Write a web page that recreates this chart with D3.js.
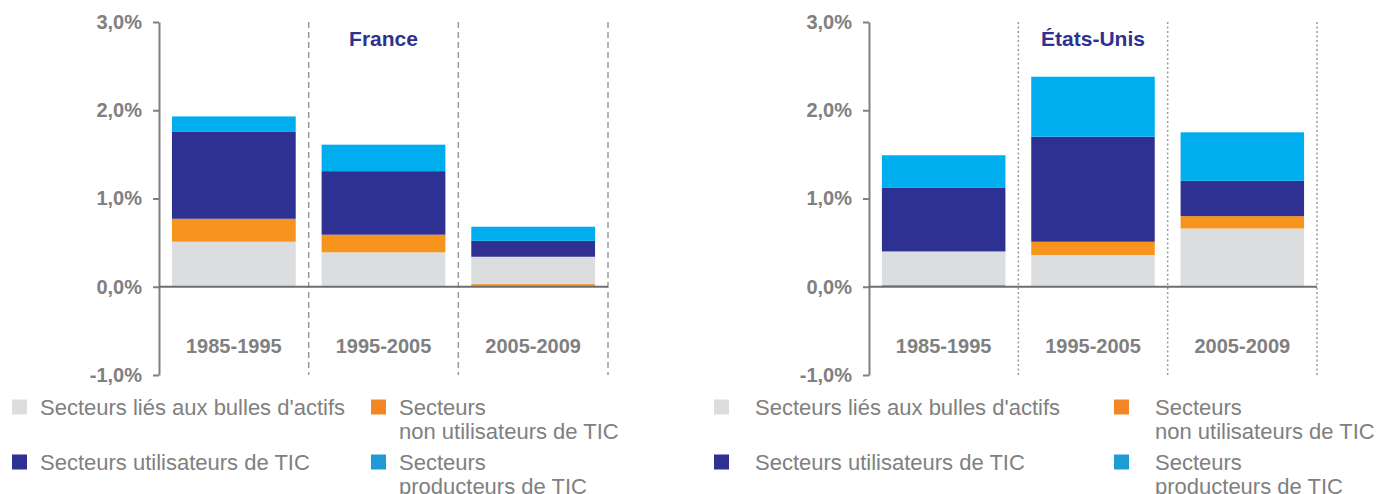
<!DOCTYPE html>
<html>
<head>
<meta charset="utf-8">
<script src="https://cdn.jsdelivr.net/npm/d3@7"></script>
<style>
  body { margin: 0; background: #fff; }
  svg { display: block; font-family: "Liberation Sans", Arial, sans-serif; }
</style>
</head>
<body>
<div id="chart"></div>
<script>
// periods and series
var periods = ["1985-1995", "1995-2005", "2005-2009"];
var seriesNames = ["Secteurs liés aux bulles d'actifs", "Secteurs non utilisateurs de TIC",
                   "Secteurs utilisateurs de TIC", "Secteurs producteurs de TIC"];
var yTicks = [-1, 0, 1, 2, 3];

// France (% per year)
var frBulles   = [0.51, 0.39, 0.31];
var frNonUtil  = [0.26, 0.20, 0.03];
var frUtil     = [0.99, 0.72, 0.18];
var frProd     = [0.17, 0.30, 0.16];
var frOrder    = [[0, 1, 2, 3], [0, 1, 2, 3], [1, 0, 2, 3]];

// Etats-Unis
var usBulles   = [0.38, 0.36, 0.66];
var usNonUtil  = [0.02, 0.15, 0.14];
var usUtil     = [0.725, 1.19, 0.40];
var usProd     = [0.365, 0.68, 0.55];
var usOrder    = [[1, 0, 2, 3], [0, 1, 2, 3], [0, 1, 2, 3]];

var barColors = ["#dcdddf", "#f7941e", "#2e3192", "#00aeef"];
var legColors = ["#dcdddf", "#f28526", "#2e3192", "#1e9bd7"];
var grey = "#808080";

var w = 1378, h = 494;
var svg = d3.select("#chart").append("svg")
    .attr("width", w)
    .attr("height", h);

var y = d3.scaleLinear().domain([-1, 3]).range([375, 22]);
// french format with plain hyphen for negatives
var fmt = function(d) {
    return (d < 0 ? "-" : "") + Math.abs(d).toFixed(1).replace(".", ",") + "%";
};

drawPanel({
    title: "France", left: 159, right: 608, dash: "6,4",
    values: [frBulles, frNonUtil, frUtil, frProd], order: frOrder,
    legX: [12, 40, 371, 399]
});
drawPanel({
    title: "États-Unis", left: 869, right: 1317, dash: "2,2.5",
    values: [usBulles, usNonUtil, usUtil, usProd], order: usOrder,
    legX: [714, 755, 1114, 1155]
});

function drawPanel(p) {
    var g = svg.append("g");
    var x = d3.scaleBand().domain(periods).range([p.left, p.right]).padding(0);
    var bw = x.bandwidth() * 0.827;
    var inset = (x.bandwidth() - bw) / 2;

    // separators
    g.selectAll("line.sep")
        .data(periods)
        .enter().append("line")
        .attr("class", "sep")
        .attr("x1", function(d) { return x(d) + x.bandwidth(); })
        .attr("x2", function(d) { return x(d) + x.bandwidth(); })
        .attr("y1", y(3))
        .attr("y2", y(-1))
        .attr("stroke", "#9a9a9a")
        .attr("stroke-width", 1.5)
        .attr("stroke-dasharray", p.dash);

    // stacked bars
    var segs = [];
    periods.forEach(function(per, i) {
        var base = 0;
        p.order[i].forEach(function(s) {
            var v = p.values[s][i];
            segs.push({ period: per, s: s, y0: base, y1: base + v });
            base += v;
        });
    });
    g.selectAll("rect.seg")
        .data(segs)
        .enter().append("rect")
        .attr("class", "seg")
        .attr("x", function(d) { return x(d.period) + inset; })
        .attr("width", bw)
        .attr("y", function(d) { return y(d.y1); })
        .attr("height", function(d) { return y(d.y0) - y(d.y1); })
        .attr("fill", function(d) { return barColors[d.s]; });

    // y axis
    var axis = d3.axisLeft(y).tickValues(yTicks).tickFormat(fmt)
        .tickSize(6).tickSizeOuter(0).tickPadding(11);
    var ag = g.append("g")
        .attr("transform", "translate(" + p.left + ",0)")
        .call(axis);
    ag.select(".domain").attr("stroke", grey).attr("stroke-width", 2);
    ag.selectAll(".tick line").attr("stroke", grey).attr("stroke-width", 2);
    ag.selectAll(".tick text")
        .attr("fill", grey)
        .attr("font-size", "20px")
        .attr("font-weight", "bold")
        .attr("font-family", "Liberation Sans, Arial, sans-serif");

    // zero line
    g.append("line")
        .attr("x1", p.left).attr("x2", p.right)
        .attr("y1", y(0)).attr("y2", y(0))
        .attr("stroke", "#6d6e71")
        .attr("stroke-width", 2);

    // period labels
    g.selectAll("text.cat")
        .data(periods)
        .enter().append("text")
        .attr("class", "cat")
        .text(function(d) { return d; })
        .attr("x", function(d) { return x(d) + x.bandwidth() / 2; })
        .attr("y", 353)
        .attr("text-anchor", "middle")
        .attr("font-size", "20px")
        .attr("font-weight", "bold")
        .attr("fill", grey);

    // title
    g.append("text")
        .text(p.title)
        .attr("x", x(periods[1]) + x.bandwidth() / 2)
        .attr("y", 46)
        .attr("text-anchor", "middle")
        .attr("font-size", "21px")
        .attr("font-weight", "bold")
        .attr("fill", "#2e3192");

    // legend
    var leg = [
        { s: 0, col: 0, row: 0, lines: [seriesNames[0]] },
        { s: 1, col: 1, row: 0, lines: ["Secteurs", "non utilisateurs de TIC"] },
        { s: 2, col: 0, row: 1, lines: [seriesNames[2]] },
        { s: 3, col: 1, row: 1, lines: ["Secteurs", "producteurs de TIC"] }
    ];
    var rowY = [407, 462];
    leg.forEach(function(l) {
        g.append("rect")
            .attr("x", p.legX[l.col * 2])
            .attr("y", rowY[l.row] - 7.5)
            .attr("width", 15).attr("height", 15)
            .attr("fill", legColors[l.s]);
        l.lines.forEach(function(t, k) {
            g.append("text")
                .text(t)
                .attr("x", p.legX[l.col * 2 + 1])
                .attr("y", rowY[l.row] + k * 24)
                .attr("dy", "0.35em")
                .attr("font-size", "22px")
                .attr("fill", grey);
        });
    });
}
</script>
</body>
</html>
